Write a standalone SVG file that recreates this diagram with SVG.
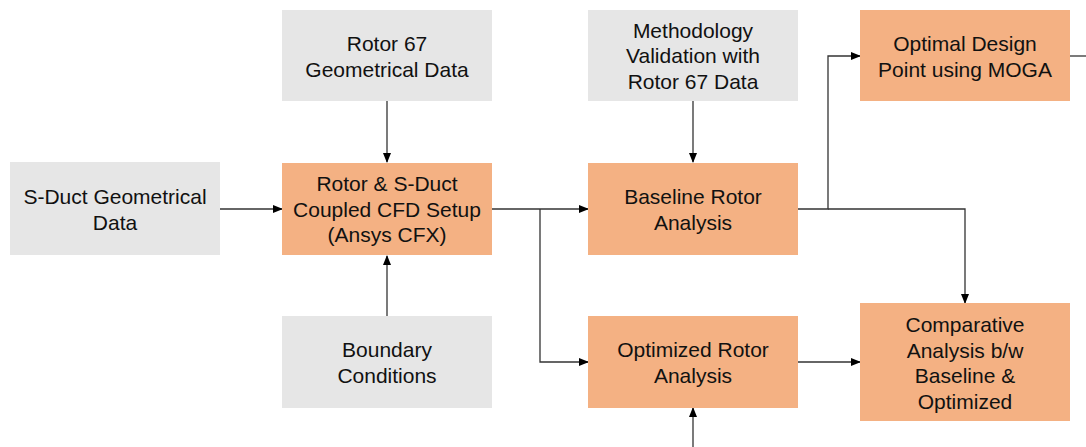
<svg xmlns="http://www.w3.org/2000/svg" width="1086" height="447" viewBox="0 0 1086 447">
<defs>
<marker id="ah" markerWidth="10" markerHeight="8" refX="9" refY="4" orient="auto" markerUnits="userSpaceOnUse">
<path d="M0,0 L10,4 L0,8 Z" fill="#000"/>
</marker>
<style>
.gray{fill:#e6e6e6}
.orange{fill:#f4b183}
text{font-family:"Liberation Sans",Arial,sans-serif;font-size:21px;fill:#111;text-anchor:middle}
.c{fill:none;stroke:#333;stroke-width:1.3}
</style>
</defs>
<rect width="1086" height="447" fill="#fff"/>
<g id="connectors">
<path class="c" d="M220,209 H282" marker-end="url(#ah)"/>
<path class="c" d="M387,101 V162" marker-end="url(#ah)"/>
<path class="c" d="M387,316 V256" marker-end="url(#ah)"/>
<path class="c" d="M492,209 H588" marker-end="url(#ah)"/>
<path class="c" d="M540,209 V362 H588" marker-end="url(#ah)"/>
<path class="c" d="M693,101 V162" marker-end="url(#ah)"/>
<path class="c" d="M798,209 H828 V56 H860" marker-end="url(#ah)"/>
<path class="c" d="M828,209 H965 V303" marker-end="url(#ah)"/>
<path class="c" d="M798,362 H860" marker-end="url(#ah)"/>
<path class="c" d="M693,447 V408" marker-end="url(#ah)"/>
<path class="c" d="M1070,56 H1086"/>
</g>
<g id="sduct">
<rect class="gray" x="10" y="162" width="210" height="93"/>
<text x="115" y="204">S-Duct Geometrical</text>
<text x="115" y="229.5">Data</text>
</g>
<g id="rotor67">
<rect class="gray" x="282" y="10" width="210" height="91"/>
<text x="387" y="51">Rotor 67</text>
<text x="387" y="76.5">Geometrical Data</text>
</g>
<g id="cfd">
<rect class="orange" x="282" y="163" width="210" height="92"/>
<text x="387" y="191">Rotor &amp; S-Duct</text>
<text x="387" y="216.5">Coupled CFD Setup</text>
<text x="387" y="242">(Ansys CFX)</text>
</g>
<g id="boundary">
<rect class="gray" x="282" y="316" width="210" height="92"/>
<text x="387" y="357">Boundary</text>
<text x="387" y="382.5">Conditions</text>
</g>
<g id="methodology">
<rect class="gray" x="588" y="10" width="210" height="91"/>
<text x="693" y="37.5">Methodology</text>
<text x="693" y="63">Validation with</text>
<text x="693" y="88.5">Rotor 67 Data</text>
</g>
<g id="baseline">
<rect class="orange" x="588" y="163" width="210" height="92"/>
<text x="693" y="204">Baseline Rotor</text>
<text x="693" y="229.5">Analysis</text>
</g>
<g id="optimized">
<rect class="orange" x="588" y="316" width="210" height="92"/>
<text x="693" y="357">Optimized Rotor</text>
<text x="693" y="382.5">Analysis</text>
</g>
<g id="moga">
<rect class="orange" x="860" y="10" width="210" height="91"/>
<text x="965" y="51">Optimal Design</text>
<text x="965" y="76.5">Point using MOGA</text>
</g>
<g id="comparative">
<rect class="orange" x="860" y="303" width="210" height="118"/>
<text x="965" y="332">Comparative</text>
<text x="965" y="357.5">Analysis b/w</text>
<text x="965" y="383">Baseline &amp;</text>
<text x="965" y="408.5">Optimized</text>
</g>
</svg>
